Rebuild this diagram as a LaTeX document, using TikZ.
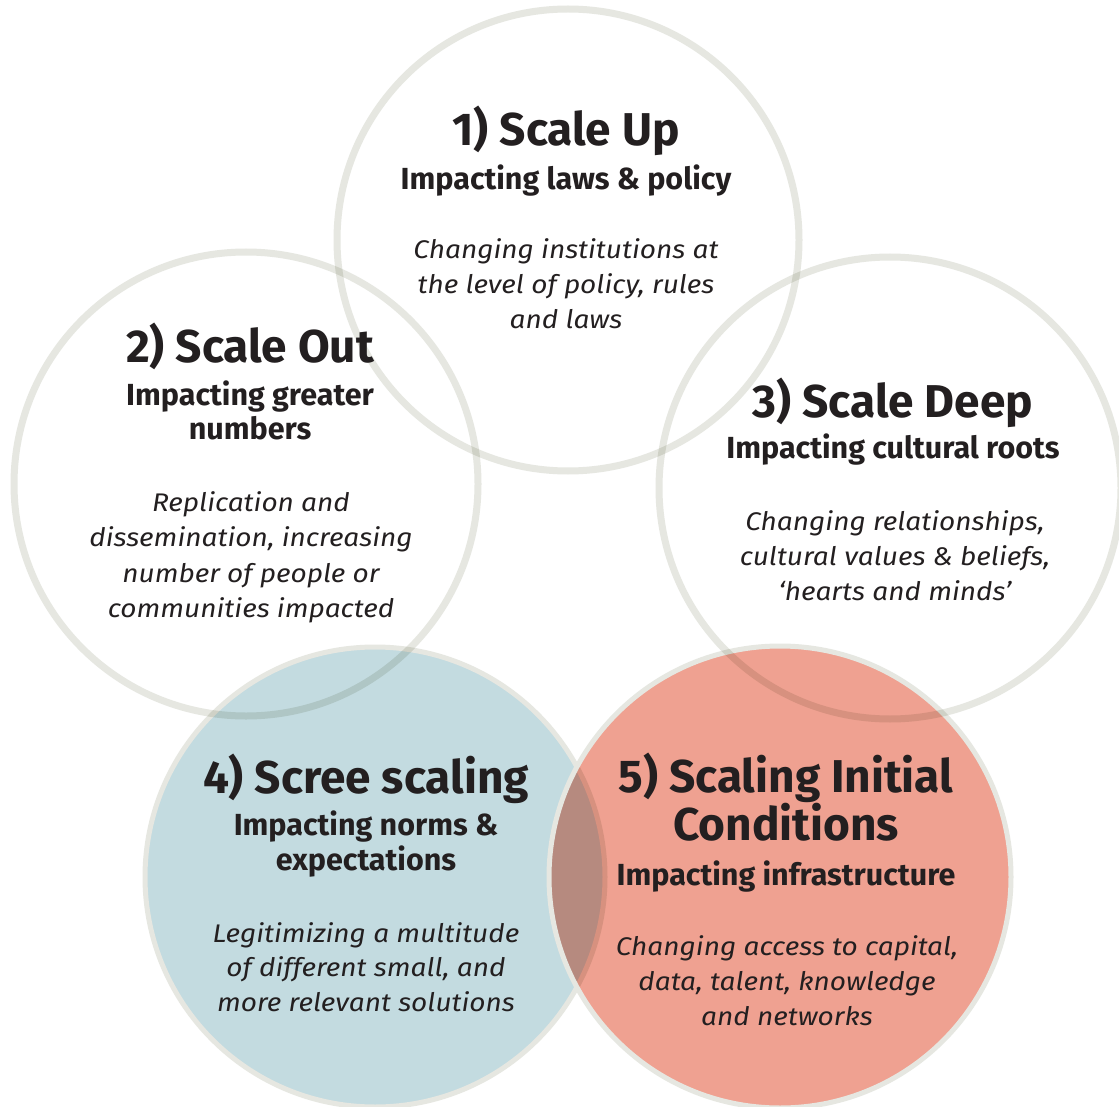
\documentclass[tikz,border=0pt]{standalone}
\usepackage{fontspec}
\setmainfont{Fira Sans}
\newfontfamily\bodyface{Fira Sans}[FakeStretch=1.1]
\definecolor{ringgray}{RGB}{230,231,225}
\definecolor{bluefill}{RGB}{195,219,224}
\definecolor{redfill}{RGB}{239,161,145}
\definecolor{ink}{RGB}{35,31,32}
\tikzset{
  ringcircle/.style={circle, draw=ringgray, line width=7pt, inner sep=0pt,
    minimum size=#1, blend mode=multiply},
  fillcircle/.style 2 args={circle, fill=#1, inner sep=0pt, minimum size=#2},
  edgering/.style={draw=ringgray, line width=5pt},
  title/.style={font=\fontsize{46}{50}\selectfont\bfseries, text=ink, anchor=base, inner sep=0pt},
  subtitle/.style={font=\fontsize{30.5}{34}\selectfont\bfseries, text=ink, anchor=base, inner sep=0pt},
  body/.style={font=\bodyface\fontsize{25.5}{35}\selectfont\itshape, text=ink, anchor=base, inner sep=0pt},
}
\begin{document}
\begin{tikzpicture}[x=1pt,y=-1pt]
\fill[white] (0,0) rectangle (1119,1107);
\useasboundingbox (0,0) rectangle (1119,1107);

% coloured circles: the red one multiplies over the blue one
\node[fillcircle={bluefill}{460pt}] (c4) at (375,877) {};
\draw[edgering] (c4.center) circle (230);
\node[fillcircle={redfill}{462pt}, blend mode=multiply] (c5) at (780,877) {};
\draw[edgering] (c5.center) circle (231);

% outline circles
\node[ringcircle=462pt] (c1) at (568,240) {};
\node[ringcircle=464pt] (c2) at (246,484) {};
\node[ringcircle=462pt] (c3) at (890,488) {};

% 1) Scale Up
\node[title]    (t1) at (566,146) {1) Scale Up};
\node[subtitle] (s1) at (566,190) {Impacting laws \& policy};
\node[body] (b1a) at (566,259) {Changing institutions at};
\node[body] (b1b) at (566,294) {the level of policy, rules};
\node[body] (b1c) at (566,329) {and laws};

% 2) Scale Out
\node[title]    (t2) at (250,362) {2) Scale Out};
\node[subtitle] (s2a) at (250,405) {Impacting greater};
\node[subtitle] (s2b) at (250,439) {numbers};
\node[body] (b2a) at (251,511) {Replication and};
\node[body] (b2b) at (251,546) {dissemination, increasing};
\node[body] (b2c) at (251,582) {number of people or};
\node[body] (b2d) at (251,617) {communities impacted};

% 3) Scale Deep
\node[title]    (t3) at (893,417) {3) Scale Deep};
\node[subtitle] (s3) at (893,458) {Impacting cultural roots};
\node[body] (b3a) at (895,530) {Changing relationships,};
\node[body] (b3b) at (895,565) {cultural values \& beliefs,};
\node[body] (b3c) at (895,600) {‘hearts and minds’};

% 4) Scree scaling
\node[title]    (t4) at (366,793) {4) Scree scaling};
\node[subtitle] (s4a) at (366,835) {Impacting norms \&};
\node[subtitle] (s4b) at (366,870) {expectations};
\node[body] (b4a) at (366,942) {Legitimizing a multitude};
\node[body] (b4b) at (366,976) {of different small, and};
\node[body] (b4c) at (366,1011) {more relevant solutions};

% 5) Scaling Initial Conditions
\node[title]    (t5a) at (786,792) {5) Scaling Initial};
\node[title]    (t5b) at (786,840) {Conditions};
\node[subtitle] (s5) at (786,885) {Impacting infrastructure};
\node[body] (b5a) at (787,955) {Changing access to capital,};
\node[body] (b5b) at (787,990) {data, talent, knowledge};
\node[body] (b5c) at (787,1025) {and networks};
\end{tikzpicture}
\end{document}
